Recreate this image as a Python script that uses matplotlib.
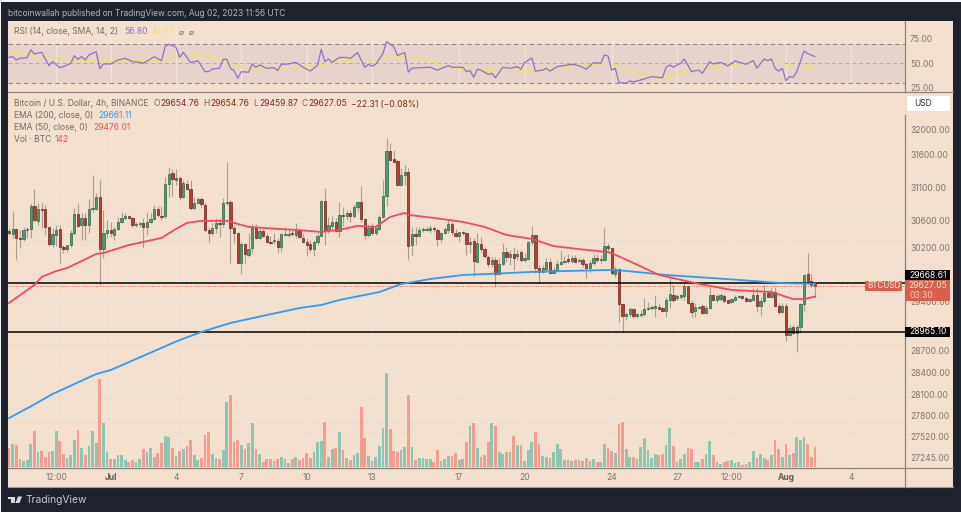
import matplotlib
matplotlib.use('Agg')
import matplotlib.pyplot as plt
from matplotlib.patches import Rectangle, Polygon, FancyBboxPatch
from matplotlib.lines import Line2D

plt.rcParams['font.family'] = ['Inter', 'DejaVu Sans']

W, H = 961, 512

# candles, 4h
opens = [
    30440, 30395, 30470, 30335, 30320, 30455, 30470, 30815, 30590, 30770,
    30770, 30500, 30245, 30380, 30470, 30200, 30170, 30230, 30410, 30695,
    30530, 30635, 30530, 30770, 30770, 30950, 30170, 30410, 30455, 30380,
    30470, 30575, 30635, 30665, 30635, 30530, 30545, 30560, 30500, 30575,
    30620, 30770, 30665, 30665, 31150, 31320, 31212, 31245, 30950, 31150,
    31075, 30785, 30860, 30920, 30830, 30455, 30410, 30485, 30560, 30545,
    30860, 30875, 30485, 30410, 29965, 30245, 30083, 30185, 30500, 30335,
    30440, 30365, 30275, 30290, 30290, 30200, 30380, 30380, 30410, 30380,
    30455, 30335, 30275, 30245, 30170, 30275, 30365, 30890, 30455, 30515,
    30575, 30440, 30680, 30665, 30710, 30665, 30800, 30875, 30620, 30380,
    30515, 30410, 30470, 30650, 30965, 31655, 31530, 31500, 31135, 31290,
    31335, 30230, 30395, 30365, 30455, 30455, 30455, 30485, 30455, 30320,
    30410, 30455, 30545, 30410, 30365, 30425, 30410, 30245, 30290, 29980,
    30245, 30170, 30053, 29950, 30010, 29805, 29950, 30125, 30053, 30097,
    30070, 30125, 30010, 30025, 30275, 30380, 29893, 29835, 29878, 29980,
    29820, 29864, 29950, 29980, 30025, 29995, 30040, 29995, 30010, 29950,
    29893, 29965, 30040, 30010, 30010, 30215, 30185, 29805, 29878, 29370,
    29200, 29226, 29298, 29197, 29212, 29226, 29298, 29312, 29312, 29326,
    29312, 29269, 29426, 29500, 29455, 29470, 29485, 29630, 29384, 29269,
    29312, 29340, 29240, 29312, 29500, 29426, 29440, 29485, 29426, 29398,
    29426, 29470, 29485, 29455, 29412, 29426, 29500, 29340, 29412, 29530,
    29470, 29545, 29340, 29255, 29340, 28930, 29042, 28958, 29042, 29370,
    29805, 29703, 29654.76]
closes = [
    30410, 30470, 30335, 30320, 30455, 30470, 30815, 30605, 30770, 30755,
    30500, 30245, 30395, 30455, 30200, 30170, 30230, 30410, 30695, 30515,
    30635, 30530, 30770, 30785, 30950, 30170, 30410, 30455, 30410, 30470,
    30575, 30635, 30665, 30635, 30530, 30545, 30560, 30500, 30575, 30620,
    30770, 30680, 30650, 31150, 31305, 31230, 31245, 30950, 31165, 31075,
    30785, 30860, 30920, 30845, 30455, 30410, 30485, 30560, 30545, 30860,
    30875, 30485, 30410, 29965, 30245, 30097, 30170, 30500, 30335, 30440,
    30365, 30275, 30260, 30305, 30200, 30395, 30395, 30395, 30395, 30455,
    30350, 30275, 30230, 30170, 30275, 30365, 30890, 30455, 30530, 30575,
    30440, 30680, 30665, 30710, 30665, 30800, 30875, 30620, 30380, 30485,
    30410, 30485, 30650, 30965, 31655, 31515, 31490, 31135, 31290, 31335,
    30215, 30395, 30365, 30455, 30470, 30470, 30485, 30470, 30320, 30410,
    30470, 30545, 30425, 30365, 30425, 30410, 30245, 30275, 29995, 30260,
    30170, 30070, 29950, 30010, 29805, 29950, 30125, 30053, 30097, 30040,
    30097, 30010, 30040, 30275, 30380, 29893, 29835, 29893, 29980, 29820,
    29864, 29950, 29980, 29995, 29995, 30040, 29980, 30010, 29950, 29893,
    29965, 30040, 30010, 30025, 30215, 30185, 29820, 29878, 29370, 29200,
    29226, 29298, 29197, 29226, 29226, 29298, 29312, 29326, 29340, 29298,
    29269, 29426, 29515, 29426, 29485, 29500, 29630, 29384, 29255, 29326,
    29326, 29240, 29312, 29500, 29426, 29485, 29500, 29412, 29384, 29440,
    29470, 29485, 29455, 29412, 29440, 29500, 29340, 29412, 29530, 29470,
    29545, 29340, 29255, 29340, 28930, 29028, 28958, 29042, 29370, 29791,
    29703, 29645, 29627.05]
highs = [
    30485, 30740, 30485, 30455, 30500, 30500, 30860, 31075, 30860, 30860,
    30830, 30500, 30485, 30530, 30530, 30230, 30230, 30455, 30785, 30860,
    30710, 30710, 30920, 31290, 31010, 31212, 30755, 30605, 30575, 30500,
    30650, 30725, 30710, 30680, 30650, 30575, 30575, 30635, 30725, 30710,
    30830, 30815, 30815, 31260, 31410, 31380, 31380, 31275, 31212, 31212,
    31212, 30950, 30950, 30950, 30860, 30500, 30560, 30635, 30635, 30935,
    31490, 30905, 30530, 30425, 30275, 30260, 30410, 30545, 30545, 30485,
    30470, 30410, 30365, 30410, 30335, 30410, 30500, 30485, 30455, 30560,
    30485, 30410, 30335, 30305, 30305, 30410, 30905, 31090, 30650, 30665,
    30635, 30875, 30800, 30755, 30755, 30845, 30890, 31120, 30635, 30530,
    30560, 30530, 30680, 31212, 31860, 31780, 31672, 31515, 31395, 31440,
    31395, 30500, 30500, 30500, 30500, 30500, 30530, 30515, 30485, 30425,
    30500, 30605, 30575, 30470, 30425, 30440, 30425, 30350, 30335, 30410,
    30350, 30200, 30083, 30053, 30053, 30040, 30260, 30200, 30156, 30200,
    30156, 30156, 30110, 30290, 30515, 30380, 29937, 29937, 30040, 30040,
    29907, 30010, 30140, 30070, 30097, 30083, 30083, 30040, 30040, 29980,
    30010, 30097, 30097, 30083, 30485, 30260, 30200, 29922, 29893, 29385,
    29255, 29326, 29312, 29241, 29283, 29455, 29398, 29355, 29500, 29384,
    29340, 29470, 29762, 29645, 29515, 29515, 29675, 29630, 29426, 29384,
    29340, 29370, 29355, 29615, 29515, 29515, 29530, 29515, 29440, 29455,
    29500, 29500, 29500, 29470, 29455, 29600, 29600, 29470, 29645, 29572,
    29600, 29615, 29384, 29384, 29384, 29070, 29070, 29070, 29384, 29805,
    30110, 29805, 29654.76]
lows = [
    30380, 30335, 30010, 30185, 30290, 30335, 30335, 30575, 30530, 30485,
    30380, 30215, 30200, 30215, 29965, 30110, 30125, 30200, 30380, 30500,
    30305, 30305, 30410, 30725, 30755, 29645, 30040, 30335, 30350, 30305,
    30455, 30560, 30605, 30620, 30500, 30500, 30500, 30185, 30380, 30560,
    30605, 30650, 30605, 30635, 30950, 30965, 31135, 30905, 30935, 31060,
    30755, 30755, 30845, 30785, 30425, 30275, 30380, 30410, 30350, 30500,
    30830, 29965, 30260, 29965, 29805, 29965, 30053, 30110, 30320, 30320,
    30350, 30260, 30245, 30245, 30110, 30125, 30365, 30350, 30365, 30335,
    30335, 30260, 30070, 30125, 30070, 30230, 30365, 30230, 30410, 30455,
    30425, 30350, 30515, 30605, 30575, 30635, 30725, 30575, 30320, 30350,
    30380, 30380, 30455, 30635, 30815, 31500, 31475, 31120, 31120, 31135,
    30010, 30083, 30230, 30350, 30425, 30440, 30410, 30425, 30215, 30275,
    30395, 30410, 30380, 30350, 30275, 30380, 30083, 30110, 29776, 29980,
    30125, 30040, 29907, 29907, 29615, 29805, 29937, 29980, 29937, 29864,
    30010, 29980, 29980, 30010, 30230, 29820, 29675, 29820, 29835, 29805,
    29820, 29835, 29937, 29965, 29965, 29965, 29980, 29980, 29907, 29747,
    29835, 29937, 29980, 29965, 29995, 30125, 29791, 29762, 29110, 28972,
    29140, 29183, 29169, 29169, 29183, 29197, 29283, 29283, 29183, 29283,
    29255, 29183, 29312, 29398, 29426, 29440, 29426, 29370, 29183, 29183,
    29298, 29226, 29226, 29298, 29412, 29398, 29412, 29398, 29384, 29384,
    29412, 29455, 29440, 29398, 29398, 29412, 29255, 29197, 29384, 29470,
    29470, 29326, 29226, 29240, 28846, 28916, 28944, 28685, 28958, 29269,
    29675, 29615, 29459.87]
volumes = [
    139, 163, 156, 60, 41, 50, 163, 257, 108, 113,
    70, 108, 113, 262, 185, 91, 62, 84, 197, 269,
    137, 89, 151, 262, 170, 636, 314, 106, 55, 60,
    89, 84, 48, 36, 50, 36, 58, 127, 108, 137,
    70, 103, 170, 221, 214, 134, 77, 113, 132, 151,
    194, 84, 48, 65, 230, 250, 96, 67, 58, 122,
    466, 521, 178, 192, 161, 132, 173, 319, 127, 91,
    36, 55, 58, 46, 60, 70, 55, 29, 55, 72,
    48, 67, 98, 67, 108, 180, 185, 322, 72, 127,
    139, 250, 125, 65, 53, 84, 103, 432, 209, 77,
    41, 70, 151, 278, 677, 276, 115, 106, 125, 144,
    516, 142, 48, 62, 62, 55, 60, 34, 120, 41,
    55, 82, 77, 98, 48, 55, 182, 293, 319, 134,
    72, 86, 180, 317, 293, 108, 94, 108, 110, 226,
    156, 161, 41, 125, 180, 254, 163, 77, 72, 62,
    106, 168, 127, 48, 48, 41, 50, 48, 41, 67,
    46, 55, 36, 36, 163, 134, 113, 103, 312, 322,
    132, 72, 72, 55, 146, 209, 120, 62, 94, 84,
    94, 158, 281, 154, 34, 55, 96, 137, 132, 36,
    38, 58, 91, 185, 89, 34, 24, 34, 41, 48,
    31, 34, 17, 19, 38, 113, 62, 91, 65, 50,
    84, 192, 132, 74, 163, 86, 98, 214, 192, 214,
    163, 72, 142]

# moving averages, read at the bars listed
ema200_bars = [0, 6, 12, 24, 28, 47, 53, 61, 71, 80, 86, 91, 102, 108, 116, 125, 132, 144, 155, 166, 170, 181, 199, 213, 222]
ema200 = [27771, 27930, 28100, 28377, 28432, 28854, 28968, 29096, 29210, 29310, 29354, 29426, 29541, 29657, 29730,
          29789, 29804, 29834, 29849, 29864, 29849, 29789, 29725, 29670, 29661.11]
ema50_bars = [0, 7, 9, 13, 16, 24, 26, 33, 42, 46, 49, 53, 60, 66, 74, 79, 86, 91, 96, 101, 105, 109, 110, 117, 125,
              131, 137, 144, 150, 157, 165, 166, 172, 179, 190, 199, 210, 216, 219, 222]
ema50 = [29383, 29645, 29761, 29847, 29891, 30097, 30112, 30230, 30335, 30470, 30560, 30590, 30590, 30500, 30470,
         30455, 30425, 30455, 30515, 30500, 30650, 30710, 30680, 30635, 30575, 30500, 30380, 30320, 30215, 30170,
         30125, 30110, 29965, 29791, 29660, 29572, 29541, 29440, 29440, 29476.01]

rsi_bars = [0, 1, 2, 3, 5, 6, 7, 9, 11, 12, 14, 15, 17, 18, 19, 20, 21, 22, 24, 25, 26, 28, 30, 32, 34, 36, 37, 40,
            42, 43, 44, 46, 47, 48, 50, 52, 54, 55, 56, 58, 59, 60, 61, 62, 63, 64, 66, 67, 68, 69, 70, 71, 73, 74,
            75, 77, 79, 81, 83, 85, 86, 87, 88, 89, 91, 93, 94, 96, 98, 99, 100, 101, 103, 104, 106, 107, 109, 110,
            111, 116, 118, 121, 122, 125, 126, 127, 128, 129, 130, 132, 133, 134, 136, 138, 140, 141, 142, 144, 145,
            147, 148, 149, 151, 155, 157, 159, 161, 163, 164, 165, 166, 167, 168, 170, 171, 172, 174, 177, 180, 181,
            182, 183, 185, 186, 188, 189, 190, 191, 193, 194, 196, 198, 200, 203, 205, 206, 208, 209, 210, 211, 212,
            213, 214, 215, 216, 217, 219, 220, 222]
rsi = [56.1, 56.8, 53.4, 55.1, 55.8, 63.7, 59.6, 61.3, 47.6, 51.7, 45.6, 46.6, 50, 57.8, 54.1, 56.8, 53.4, 58.5, 61.9,
       44.5, 49.3, 49.3, 53.4, 55.1, 51.7, 51, 50, 56.8, 52.7, 67, 69.5, 66.4, 56.1, 61.3, 50.7, 52.7, 41.5, 41.5,
       44.2, 44.9, 54.1, 54.1, 44.9, 42.5, 34.7, 41.5, 40.8, 49.3, 45.9, 48.3, 46.6, 44.9, 45.6, 42.5, 49, 49.3, 51,
       46, 42, 48, 64.3, 51.7, 54.4, 51, 56, 56, 55, 61, 46, 49, 47, 49, 60, 72, 67, 58, 61, 41, 45, 46, 43, 47.6,
       46, 46, 41.5, 42.5, 35.7, 44, 43, 38.7, 39.8, 35.3, 45.9, 44.9, 46.6, 43.9, 50.7, 55.5, 42, 43, 44.9, 42, 46.6,
       49, 47.6, 44, 50.7, 50, 58.5, 57.5, 43, 44.9, 30.5, 29.5, 32, 31, 33, 36.3, 35.3, 46, 48.3, 46, 50, 54.4, 41.5,
       42.5, 43, 39.8, 51.7, 49.3, 51, 47.3, 52.4, 49, 52.7, 45, 54.4, 52.7, 54.4, 45, 42, 44.9, 32.3, 36.3, 35.7,
       41.5, 62.6, 60, 56.8]
rsi_ma_bars = [0, 7, 16, 25, 34, 42, 47, 52, 56, 62, 66, 74, 80, 85, 89, 96, 101, 107, 114, 121, 130, 137, 144, 153,
               165, 171, 180, 187, 194, 203, 213, 217, 222]
rsi_ma = [62, 58.5, 53.4, 52.4, 52.7, 52.7, 57.5, 59.2, 56, 47.6, 44.2, 44.2, 46.6, 47.6, 50.7, 54.4, 53.4, 57.5, 54.4,
          46, 43, 41.5, 43, 46.6, 50, 43, 34.6, 41.5, 46.6, 50, 50, 45, 47.67]

# axis
price_ticks = [32000, 31600, 31100, 30600, 30200, 29400, 28700, 28400, 28100, 27800, 27520, 27245]
rsi_ticks = [25, 50, 75]
time_bars = [13, 28, 46, 64, 82, 100, 124, 142, 166, 184, 199, 214, 232]
time_labels = ['12:00', 'Jul', '4', '7', '10', '13', '17', '20', '24', '27', '12:00', 'Aug', '4']
level_high = 29668.61
level_low = 28965.10
last_close = closes[-1]

assert len(opens) == len(closes) == len(highs) == len(lows) == len(volumes)

BG = '#f2dfce'
FRAME = '#1e222d'
GRID = '#efe6dc'
AXIS = '#8a8580'
LABEL = '#7b7773'
TEXT = '#6f6b68'
UP = '#4f9a70'
DOWN = '#b4412f'


def fx(x):
    return x / W


def fy(y):
    return 1 - y / H


def pane(left, top, right, bottom):
    return fig.add_axes([fx(left), fy(bottom), fx(right - left), (bottom - top) / H])


def put(x, y, s, color=TEXT, size=6.1, **kw):
    fig.text(fx(x), fy(y), s, color=color, fontsize=size, va='center', zorder=12, **kw)


def box(x0, y0, x1, y1, color):
    fig.add_artist(Rectangle((fx(x0), fy(y1)), (x1 - x0) / W, (y1 - y0) / H, color=color, lw=0,
                             transform=fig.transFigure, zorder=10))


def hline(x0, x1, y, color=AXIS, lw=0.9):
    fig.add_artist(Line2D([fx(x0), fx(x1)], [fy(y), fy(y)], color=color, lw=lw, zorder=9))


def vline(x, y0, y1, color=AXIS, lw=0.9):
    fig.add_artist(Line2D([fx(x), fx(x)], [fy(y0), fy(y1)], color=color, lw=lw, zorder=9))


fig = plt.figure(figsize=(W / 100, H / 100), dpi=100, facecolor='#f4f4f5')
fig.add_artist(Rectangle((fx(1), 0), 960 / W, fy(2), color=FRAME, lw=0, transform=fig.transFigure, zorder=-5))
fig.add_artist(Rectangle((fx(8), fy(487)), 945 / W, 466 / H, color=BG, lw=0, transform=fig.transFigure, zorder=-4))

xlim = (-0.28, 246.8)
bars = list(range(len(closes)))

# RSI pane
ax_rsi = pane(8, 21, 905, 92)
ax_rsi.set_facecolor(BG)
ax_rsi.set_xlim(*xlim)
ax_rsi.set_ylim(20.7, 93.2)
ax_rsi.axhspan(30, 70, color='#e6d3cb', lw=0, zorder=0)
ax_rsi.axhline(70, color='#8d8886', lw=0.8, ls=(0, (4, 3)), zorder=1)
ax_rsi.axhline(50, color='#b5aaa6', lw=0.7, ls=(0, (4, 3)), zorder=1)
ax_rsi.axhline(30, color='#8d8886', lw=0.8, ls=(0, (4, 3)), zorder=1)
ax_rsi.plot(rsi_ma_bars, rsi_ma, color='#f4e05c', lw=0.9, zorder=2)
ax_rsi.plot(rsi_bars, rsi, color='#8f6fd0', lw=0.9, zorder=3)
ax_rsi.set_xticks(time_bars)
ax_rsi.set_xticklabels([])
ax_rsi.set_yticks(rsi_ticks)
ax_rsi.set_yticklabels([f'{v:.2f}' for v in rsi_ticks], color=LABEL, fontsize=6.1)
ax_rsi.yaxis.tick_right()
ax_rsi.tick_params(length=0, pad=3.6)
ax_rsi.grid(axis='x', color=GRID, lw=0.9)
ax_rsi.set_axisbelow(True)
for s in ax_rsi.spines.values():
    s.set_visible(False)

# price pane, log scale like the original
ax = pane(8, 92, 905, 467)
ax.set_facecolor(BG)
ax.set_yscale('log')
ax.set_xlim(*xlim)
ax.set_ylim(27112, 32586)

# volume sits on the same pane
ax_vol = ax.twinx()
ax_vol.set_ylim(0, 2700)
ax_vol.set_yticks([])
ax_vol.patch.set_visible(False)
for s in ax_vol.spines.values():
    s.set_visible(False)

ax.set_yticks(price_ticks)
ax.set_yticklabels([f'{v:.2f}' for v in price_ticks], color=LABEL, fontsize=6.1)
ax.yaxis.set_minor_locator(matplotlib.ticker.NullLocator())
ax.yaxis.tick_right()
ax.set_xticks(time_bars)
ax.set_xticklabels(time_labels, color=LABEL, fontsize=6.1)
for lab in ax.get_xticklabels():
    if lab.get_text() in ('Jul', 'Aug'):
        lab.set_fontweight('bold')
        lab.set_color('#5f5b58')
ax.tick_params(axis='y', length=0, pad=3.6)
ax.tick_params(axis='x', length=0, pad=4.5)
ax.grid(color=GRID, lw=0.9)
ax.set_axisbelow(True)
for s in ax.spines.values():
    s.set_visible(False)

ax.vlines(bars, lows, highs, color='#a89e94', lw=0.8, zorder=2)
body_low = [min(o, c) for o, c in zip(opens, closes)]
body_h = [abs(c - o) for o, c in zip(opens, closes)]
face = [UP if c >= o else DOWN for o, c in zip(opens, closes)]
edge = ['#1f5c3e' if c >= o else '#5e1c12' for o, c in zip(opens, closes)]
ax.bar(bars, body_h, bottom=body_low, width=0.62, color=face, edgecolor=edge, lw=0.45, zorder=3)

ax.axhline(last_close, color='#e8604c', lw=0.7, ls=(0, (1, 1.5)), zorder=4)
ax.axhline(level_high, color='black', lw=1.1, zorder=4)
ax.axhline(level_low, color='black', lw=1.1, zorder=4)
ax.plot(ema200_bars, ema200, color='#2f9bf2', lw=1.3, zorder=5)
ax.plot(ema50_bars, ema50, color='#f2495c', lw=1.3, zorder=5)

vol_col = ['#8fc6b3' if c >= o else '#f49c90' for o, c in zip(opens, closes)]
ax_vol.bar(bars, volumes, width=0.76, color=vol_col, lw=0)

# pane borders
hline(8, 953, 92)
hline(8, 953, 467.5)
hline(8, 953, 487, color='#a39c96', lw=0.8)
vline(904.5, 21, 92)
vline(904.5, 115, 487)

# price labels
box(905, 270, 950, 280, 'black')
put(928, 275, f'{level_high:.2f}', color='white', ha='center')
box(905, 280, 950, 301, '#d8604b')
put(928, 285.5, f'{last_close:.2f}', color='#f7e6e0', ha='center')
put(921, 296, '03:30', color='#f5c9bd', ha='center')
box(865, 281, 902, 291, '#d8604b')
put(883.5, 286, 'BTCUSD', color='#f7e6e0', ha='center', size=5.8)
box(905, 327, 950, 337, 'black')
put(928, 332, f'{level_low:.2f}', color='white', ha='center')
fig.add_artist(FancyBboxPatch((907, H - 111), 43, 15, boxstyle='round,pad=0,rounding_size=2', color='white', lw=0,
                              transform=None, zorder=10))
put(914, 104, 'USD', color='#2a2e39', size=6.1)

# legends
put(8, 13, 'bitcoinwallah published on TradingView.com, Aug 02, 2023 11:56 UTC', color='#b2b5be', size=6.05)
put(14, 32, 'RSI (14, close, SMA, 14, 2)')
put(124, 32, '56.80', color='#8f6fd0')
put(152, 32, '47.67', color='#f4e05c')
put(179, 32, '⌀', size=6)
put(189, 32, '⌀', size=6)
put(14, 104, 'Bitcoin / U.S. Dollar, 4h, BINANCE')
ohlc_col = '#7c2a22'
put(153, 104, 'O', color=TEXT)
put(160, 104, '29654.76', color=ohlc_col)
put(203, 104, 'H', color=TEXT)
put(210, 104, '29654.76', color=ohlc_col)
put(253, 104, 'L', color=TEXT)
put(259, 104, '29459.87', color=ohlc_col)
put(301, 104, 'C', color=TEXT)
put(308, 104, '29627.05', color=ohlc_col)
put(351, 104, '\u221222.31 (\u22120.08%)', color=ohlc_col)
put(14, 116, 'EMA (200, close, 0)')
put(98, 116, '29661.11', color='#2f9bf2')
put(14, 128, 'EMA (50, close, 0)')
put(93, 128, '29476.01', color='#f2495c')
put(14, 140, 'Vol \u00b7 BTC')
put(55, 140, '142', color='#f2495c')

# logo
logo = '#d8d9dc'
box(8, 496.5, 15, 498.5, logo)
box(11, 496.5, 15, 503, logo)
fig.add_artist(Polygon([(fx(18), fy(496.5)), (fx(22), fy(496.5)), (fx(19.5), fy(503)), (fx(15.5), fy(503))],
                       color=logo, lw=0, transform=fig.transFigure, zorder=10))
put(25, 500, 'TradingView', color='#c8cad0', size=7.4)

fig.savefig('out.png', dpi=100, facecolor=fig.get_facecolor())
